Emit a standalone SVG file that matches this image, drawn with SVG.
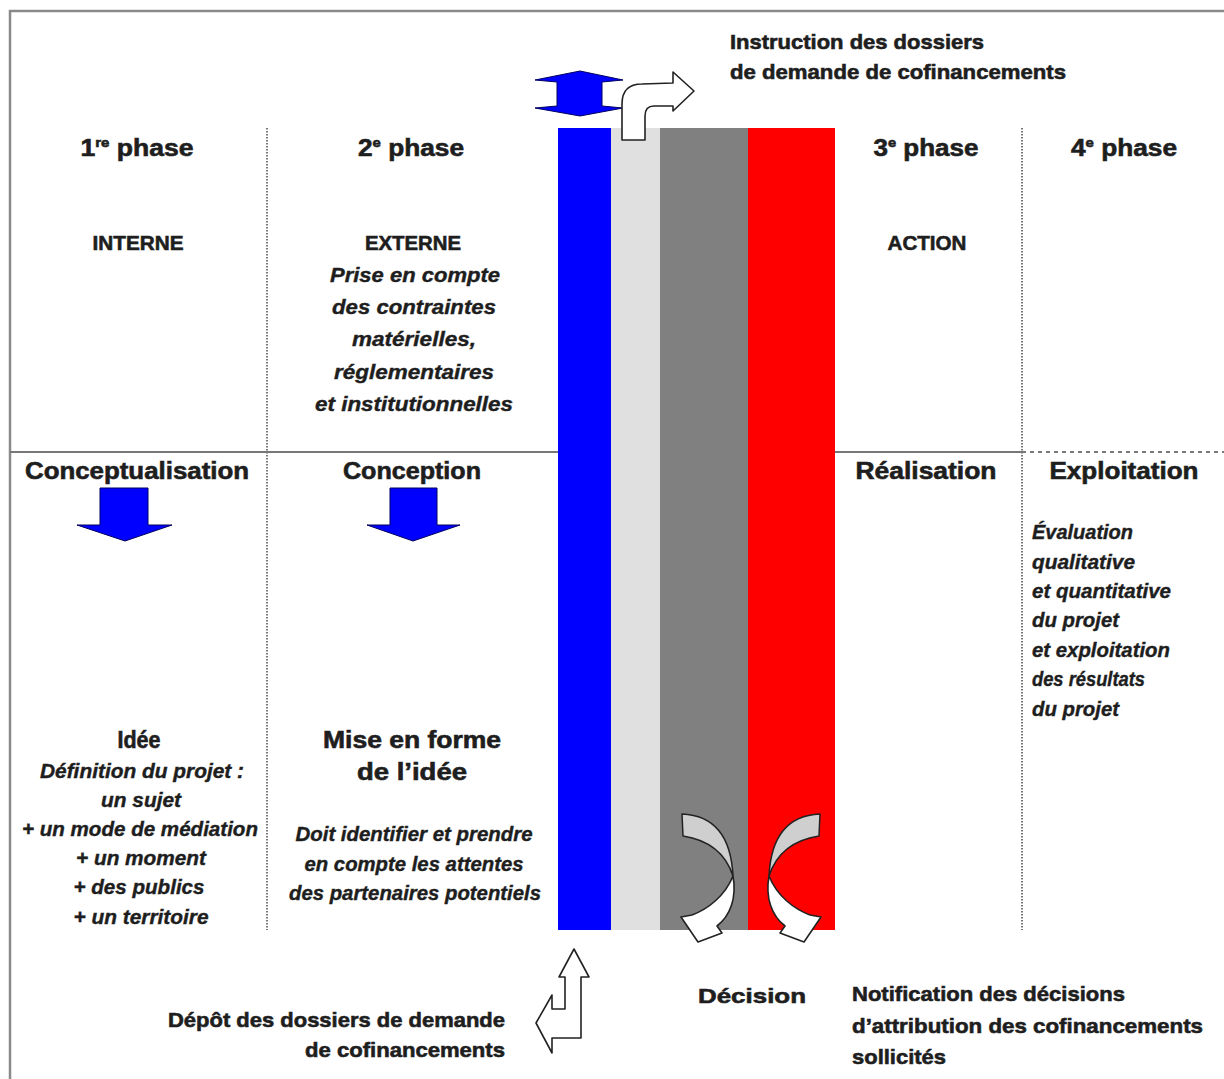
<svg xmlns="http://www.w3.org/2000/svg" width="1224" height="1079" viewBox="0 0 1224 1079">
<style>
.b{font-family:"Liberation Sans",Arial,sans-serif;font-weight:bold;fill:#1e1e1e;stroke:#1e1e1e;stroke-width:0.6}
.h{font-size:23px}
.m{font-size:21px}
.i{font-family:"Liberation Sans",Arial,sans-serif;font-weight:bold;font-style:italic;font-size:20px;fill:#1e1e1e;stroke:#1e1e1e;stroke-width:0.4}
.c{text-anchor:middle}
.e{text-anchor:end}
.sup{font-size:13px}
.dot{stroke:#777;stroke-width:2;stroke-dasharray:1.5 1.5}
.outline{fill:#fff;stroke:#222;stroke-width:1.6;stroke-linejoin:round}
.blue{fill:#0000ff;stroke:#000060;stroke-width:1}
.crescent{fill:#cfcfcf;stroke:#222;stroke-width:1.5;stroke-linejoin:round}
</style>
<rect width="1224" height="1079" fill="#fff"/>
<rect x="10" y="11" width="1230" height="1090" fill="none" stroke="#8a8a8a" stroke-width="2.5"/>

<g id="grid">
  <line x1="10" y1="452" x2="1022" y2="452" stroke="#777" stroke-width="2"/>
  <line x1="1022" y1="452" x2="1224" y2="452" stroke="#777" stroke-width="2" stroke-dasharray="4 4"/>
  <line class="dot" x1="267" y1="128" x2="267" y2="930"/>
  <line class="dot" x1="1022" y1="128" x2="1022" y2="930"/>
</g>

<g id="bars">
  <rect id="bar-blue" x="558" y="128" width="53" height="802" fill="#0000ff"/>
  <rect id="bar-lightgray" x="611" y="128" width="49" height="802" fill="#e0e0e0"/>
  <rect id="bar-gray" x="660" y="128" width="88" height="802" fill="#808080"/>
  <rect id="bar-red" x="748" y="128" width="87" height="802" fill="#ff0000"/>
</g>

<g id="phase1">
  <text class="b h c" x="137" y="156" textLength="113" lengthAdjust="spacingAndGlyphs">1<tspan class="sup" dy="-9">re</tspan><tspan dy="9"> phase</tspan></text>
  <text class="b m c" x="138" y="250" textLength="91" lengthAdjust="spacingAndGlyphs">INTERNE</text>
  <text class="b h c" x="137" y="479" textLength="224" lengthAdjust="spacingAndGlyphs">Conceptualisation</text>
  <text class="b h c" x="139" y="748" textLength="43" lengthAdjust="spacingAndGlyphs">Idée</text>
  <text class="i c" x="142" y="778" textLength="204" lengthAdjust="spacingAndGlyphs">Définition du projet :</text>
  <text class="i c" x="141" y="807" textLength="80" lengthAdjust="spacingAndGlyphs">un sujet</text>
  <text class="i c" x="140" y="836" textLength="236" lengthAdjust="spacingAndGlyphs">+ un mode de médiation</text>
  <text class="i c" x="141" y="865" textLength="130" lengthAdjust="spacingAndGlyphs">+ un moment</text>
  <text class="i c" x="139" y="894" textLength="131" lengthAdjust="spacingAndGlyphs">+ des publics</text>
  <text class="i c" x="141" y="924" textLength="135" lengthAdjust="spacingAndGlyphs">+ un territoire</text>
</g>

<g id="phase2">
  <text class="b h c" x="411" y="156" textLength="106" lengthAdjust="spacingAndGlyphs">2<tspan class="sup" dy="-9">e</tspan><tspan dy="9"> phase</tspan></text>
  <text class="b m c" x="413" y="250" textLength="96" lengthAdjust="spacingAndGlyphs">EXTERNE</text>
  <text class="i c" x="415" y="282" textLength="170" lengthAdjust="spacingAndGlyphs">Prise en compte</text>
  <text class="i c" x="414" y="314" textLength="164" lengthAdjust="spacingAndGlyphs">des contraintes</text>
  <text class="i c" x="414" y="346" textLength="124" lengthAdjust="spacingAndGlyphs">matérielles,</text>
  <text class="i c" x="414" y="379" textLength="160" lengthAdjust="spacingAndGlyphs">réglementaires</text>
  <text class="i c" x="414" y="411" textLength="198" lengthAdjust="spacingAndGlyphs">et institutionnelles</text>
  <text class="b h c" x="412" y="479" textLength="138" lengthAdjust="spacingAndGlyphs">Conception</text>
  <text class="b h c" x="412" y="748" textLength="178" lengthAdjust="spacingAndGlyphs">Mise en forme</text>
  <text class="b h c" x="412" y="780" textLength="110" lengthAdjust="spacingAndGlyphs">de l’idée</text>
  <text class="i c" x="414" y="841" textLength="237" lengthAdjust="spacingAndGlyphs">Doit identifier et prendre</text>
  <text class="i c" x="414" y="871" textLength="219" lengthAdjust="spacingAndGlyphs">en compte les attentes</text>
  <text class="i c" x="415" y="900" textLength="252" lengthAdjust="spacingAndGlyphs">des partenaires potentiels</text>
</g>

<g id="phase3">
  <text class="b h c" x="926" y="156" textLength="105" lengthAdjust="spacingAndGlyphs">3<tspan class="sup" dy="-9">e</tspan><tspan dy="9"> phase</tspan></text>
  <text class="b m c" x="927" y="250" textLength="79" lengthAdjust="spacingAndGlyphs">ACTION</text>
  <text class="b h c" x="926" y="479" textLength="141" lengthAdjust="spacingAndGlyphs">Réalisation</text>
</g>

<g id="phase4">
  <text class="b h c" x="1124" y="156" textLength="106" lengthAdjust="spacingAndGlyphs">4<tspan class="sup" dy="-9">e</tspan><tspan dy="9"> phase</tspan></text>
  <text class="b h c" x="1124" y="479" textLength="149" lengthAdjust="spacingAndGlyphs">Exploitation</text>
  <text class="i" x="1032" y="539" textLength="101" lengthAdjust="spacingAndGlyphs">Évaluation</text>
  <text class="i" x="1032" y="569" textLength="103" lengthAdjust="spacingAndGlyphs">qualitative</text>
  <text class="i" x="1032" y="598" textLength="139" lengthAdjust="spacingAndGlyphs">et quantitative</text>
  <text class="i" x="1032" y="627" textLength="87" lengthAdjust="spacingAndGlyphs">du projet</text>
  <text class="i" x="1032" y="657" textLength="138" lengthAdjust="spacingAndGlyphs">et exploitation</text>
  <text class="i" x="1032" y="686" textLength="113" lengthAdjust="spacingAndGlyphs">des résultats</text>
  <text class="i" x="1032" y="716" textLength="87" lengthAdjust="spacingAndGlyphs">du projet</text>
</g>

<g id="instruction">
  <text class="b m" x="730" y="49" textLength="254" lengthAdjust="spacingAndGlyphs">Instruction des dossiers</text>
  <text class="b m" x="730" y="79" textLength="336" lengthAdjust="spacingAndGlyphs">de demande de cofinancements</text>
</g>

<g id="depot">
  <text class="b m e" x="505" y="1027" textLength="337" lengthAdjust="spacingAndGlyphs">Dépôt des dossiers de demande</text>
  <text class="b m e" x="505" y="1057" textLength="200" lengthAdjust="spacingAndGlyphs">de cofinancements</text>
</g>

<g id="decision">
  <text class="b m c" x="752" y="1003" textLength="108" lengthAdjust="spacingAndGlyphs">Décision</text>
</g>

<g id="notification">
  <text class="b m" x="852" y="1001" textLength="273" lengthAdjust="spacingAndGlyphs">Notification des décisions</text>
  <text class="b m" x="852" y="1033" textLength="351" lengthAdjust="spacingAndGlyphs">d’attribution des cofinancements</text>
  <text class="b m" x="852" y="1064" textLength="94" lengthAdjust="spacingAndGlyphs">sollicités</text>
</g>

<g id="connectors">
  <polygon class="blue" points="100,488 148,488 148,525 172,525 125,541 77,525 100,525"/>
  <polygon class="blue" points="390,488 437,488 437,525 460,525 413,541 367,525 390,525"/>
  <polygon class="blue" points="580,71 623,80 602,82 602,106 623,108 580,116 535,108 557,106 557,82 535,80"/>
  <path class="outline" d="M622,140 L622,104 Q622,84 642,84 L673,83 L673,72 L694,91 L673,111 L673,106 L654,106 Q645,106 645,116 L645,140 Z"/>
  <path class="outline" d="M574,949 L589,977 L581,977 L581,1038 L552,1038 L552,1053 L536,1023 L552,995 L552,1009 L565,1009 L565,977 L559,977 Z"/>
  <g id="curved-left">
    <path class="crescent" d="M682,814 Q730,816 733,876 Q722,842 683,836 Z"/>
    <path class="outline" d="M733,876 C737,898 730,916 717,926 L722,933 L698,942 L681,917 L692,915 C708,909 725,896 733,876 Z"/>
  </g>
  <g id="curved-right" transform="translate(1502,0) scale(-1,1)">
    <path class="crescent" d="M682,814 Q730,816 733,876 Q722,842 683,836 Z"/>
    <path class="outline" d="M733,876 C737,898 730,916 717,926 L722,933 L698,942 L681,917 L692,915 C708,909 725,896 733,876 Z"/>
  </g>
</g>
</svg>
